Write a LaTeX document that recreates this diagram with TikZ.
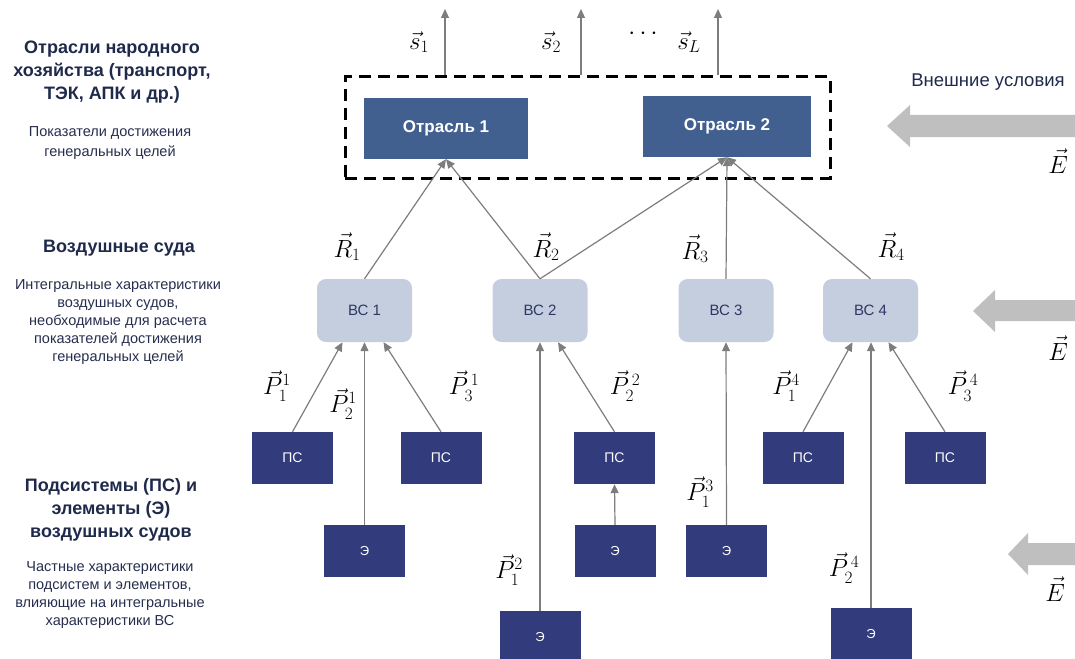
\documentclass[tikz,border=0pt]{standalone}
\usepackage{fontspec}
\newfontfamily\arial{Liberation Sans}
\usetikzlibrary{arrows.meta,calc}
\definecolor{otrc}{RGB}{66,96,143}
\definecolor{psc}{RGB}{50,59,123}
\definecolor{vsc}{RGB}{197,206,223}
\definecolor{vstext}{RGB}{44,56,100}
\definecolor{navy}{RGB}{31,42,75}
\definecolor{subnavy}{RGB}{38,46,78}
\definecolor{conng}{RGB}{125,125,125}
\definecolor{bigg}{RGB}{191,191,191}
\begin{document}
\begin{tikzpicture}[x=1pt,y=-1pt,
  otr/.style={fill=otrc,draw=none,inner sep=0pt,minimum width=#1,minimum height=61pt,text=white,font=\arial\bfseries\fontsize{17}{19}\selectfont},
  vs/.style={fill=vsc,draw=none,rounded corners=9pt,inner sep=0pt,minimum width=95pt,minimum height=63pt,text=vstext,font=\arial\fontsize{15}{17}\selectfont},
  ps/.style={fill=psc,draw=none,inner sep=0pt,minimum width=81pt,minimum height=52pt,text=white,font=\arial\fontsize{14}{16}\selectfont},
  el/.style={fill=psc,draw=none,inner sep=0pt,minimum width=81pt,minimum height=52pt,text=white,font=\arial\fontsize{13}{15}\selectfont},
  frame/.style={draw=black,line width=3pt,dash pattern=on 12pt off 7pt,inner sep=0pt,minimum width=485pt,minimum height=101pt},
  conn/.style={draw=conng,line width=1.2pt,-{Triangle[length=9pt,width=8pt]}},
  bigarr/.style={fill=bigg,draw=none},
  ttl/.style={align=center,text=navy,font=\arial\bfseries\fontsize{18}{23}\selectfont},
  sub/.style={align=center,text=subnavy,font=\arial\fontsize{14.5}{#1}\selectfont},
  lbl/.style={inner sep=0pt,font=\fontsize{25}{28}\selectfont},
  slbl/.style={inner sep=0pt,font=\fontsize{27}{30}\selectfont},
  plbl/.style={inner sep=0pt,font=\fontsize{25}{28}\selectfont},
  elbl/.style={inner sep=0pt,font=\fontsize{29}{31}\selectfont},
]
\useasboundingbox (0,0) rectangle (1075,658);

% left column texts
\node[ttl] (t1) at (112,72) {Отрасли народного\\хозяйства (транспорт,\\ТЭК, АПК и др.)};
\node[sub=20pt] (d1) at (110,143) {Показатели достижения\\генеральных целей};
\node[ttl] (t2) at (119,248) {Воздушные суда};
\node[sub=17.8pt] (d2) at (118,322) {Интегральные характеристики\\воздушных судов,\\необходимые для расчета\\показателей достижения\\генеральных целей};
\node[ttl] (t3) at (111,510) {Подсистемы (ПС) и\\элементы (Э)\\воздушных судов};
\node[sub=18pt] (d3) at (110,595) {Частные характеристики\\подсистем и элементов,\\влияющие на интегральные\\характеристики ВС};

% frame and branches
\node[frame] (fr) at (587.5,127.5) {};
\node[otr=164pt] (o1) at (446,128.5) {Отрасль 1};
\node[otr=168pt] (o2) at (727,126.5) {Отрасль 2};

\coordinate (u1) at (445,9);
\coordinate (u2) at (581,9);
\coordinate (u3) at (718,9);
\draw[conn] (fr.north -| u1) -- (u1);
\draw[conn] (fr.north -| u2) -- (u2);
\draw[conn] (fr.north -| u3) -- (u3);
\node[slbl] (s1) at (419,42) {$\vec{s}_1$};
\node[slbl] (s2) at (551,42) {$\vec{s}_2$};
\node[slbl] (sd) at (643,34) {$\cdots$};
\node[slbl] (sL) at (689,42) {$\vec{s}_L$};

% external conditions
\node[text=navy,font=\arial\fontsize{18.5}{21}\selectfont,inner sep=0pt] (ext) at (988,82) {Внешние условия};
\fill[bigarr] (887,126) -- (910,105) -- (910,115) -- (1075,115) -- (1075,137) -- (910,137) -- (910,147) -- cycle;
\fill[bigarr] (973,311) -- (995,290) -- (995,300) -- (1075,300) -- (1075,321) -- (995,321) -- (995,332) -- cycle;
\fill[bigarr] (1008,554) -- (1028,533) -- (1028,543) -- (1075,543) -- (1075,565) -- (1028,565) -- (1028,575) -- cycle;
\node[elbl] (e1l) at (1058,161) {$\vec{E}$};
\node[elbl] (e2l) at (1058,348) {$\vec{E}$};
\node[elbl] (e3l) at (1055,589) {$\vec{E}$};

% aircraft
\node[vs] (vs1) at (364.5,310.5) {ВС 1};
\node[vs] (vs2) at (540,310.5) {ВС 2};
\node[vs] (vs3) at (726,310.5) {ВС 3};
\node[vs] (vs4) at (870.5,310.5) {ВС 4};

\draw[conn] (vs1.north) -- (o1.south);
\draw[conn] (vs2.north) -- (o1.south);
\draw[conn] (vs2.north) -- (o2.south);
\draw[conn] (vs3.north) -- (o2.south);
\draw[conn] (vs4.north) -- (o2.south);
\node[lbl] (r1) at (347,247) {$\vec{R}_1$};
\node[lbl] (r2) at (546,247) {$\vec{R}_2$};
\node[lbl] (r3) at (695,249) {$\vec{R}_3$};
\node[lbl] (r4) at (891,247) {$\vec{R}_4$};

% subsystems
\node[ps] (p1) at (292.5,458) {ПС};
\node[ps] (p2) at (441,458) {ПС};
\node[ps] (p3) at (614.5,458) {ПС};
\node[ps] (p4) at (803,458) {ПС};
\node[ps] (p5) at (945,458) {ПС};

% elements
\node[el] (e1) at (364.5,551) {Э};
\node[el] (e2) at (540,637) {Э};
\node[el] (e3) at (615,551) {Э};
\node[el] (e4) at (726.5,551) {Э};
\node[el] (e5) at (871,634) {Э};

\draw[conn] (p1.north) -- ($(vs1.south)+(-22,0)$);
\draw[conn] (e1.north) -- (vs1.south);
\draw[conn] (p2.north) -- ($(vs1.south)+(19,0)$);
\draw[conn] (e2.north) -- (vs2.south);
\draw[conn] (p3.north) -- ($(vs2.south)+(18,0)$);
\draw[conn] (e3.north) -- (p3.south);
\draw[conn] (e4.north) -- (vs3.south);
\draw[conn] (p4.north) -- ($(vs4.south)+(-18,0)$);
\draw[conn] (e5.north) -- (vs4.south -| e5.north);
\draw[conn] (p5.north) -- ($(vs4.south)+(18,0)$);

\node[plbl] (l11) at (277,386) {$\vec{P}_1^1$};
\node[plbl] (l21) at (343,404) {$\vec{P}_2^1$};
\node[plbl] (l31) at (464,386) {$\vec{P}_3^{\,1}$};
\node[plbl] (l22) at (625,386) {$\vec{P}_2^{\,2}$};
\node[plbl] (l12) at (509,570) {$\vec{P}_1^2$};
\node[plbl] (l13) at (700,492) {$\vec{P}_1^3$};
\node[plbl] (l14) at (786,386) {$\vec{P}_1^4$};
\node[plbl] (l34) at (963,386) {$\vec{P}_3^{\,4}$};
\node[plbl] (l24) at (844,568) {$\vec{P}_2^{\,4}$};
\end{tikzpicture}
\end{document}
